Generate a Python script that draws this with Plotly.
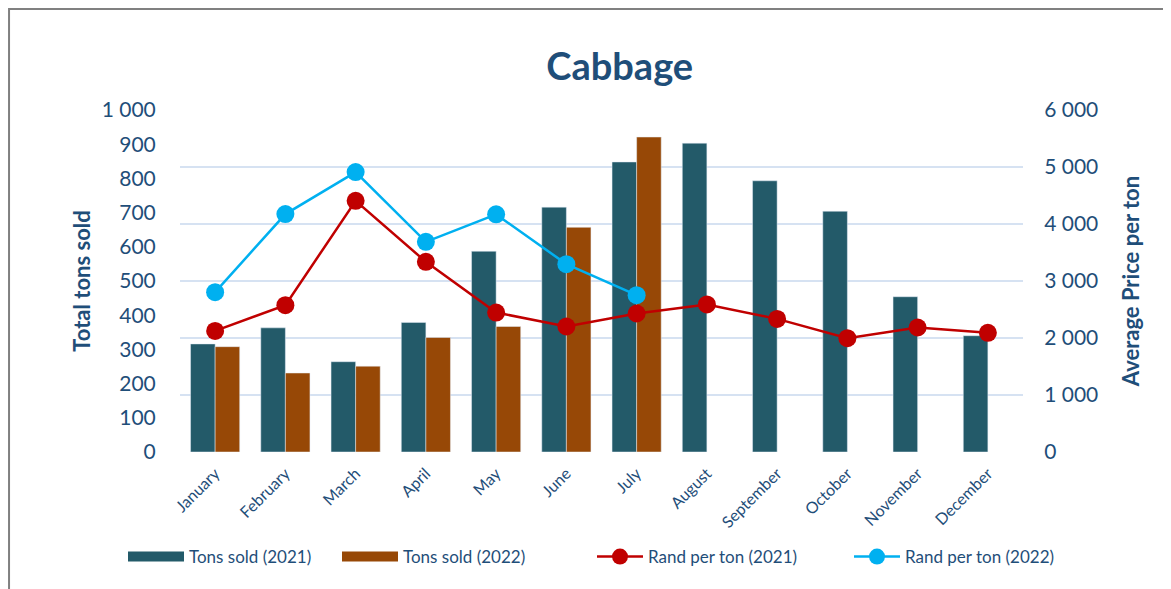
import plotly.graph_objects as go

months = ['January', 'February', 'March', 'April', 'May', 'June', 'July',
          'August', 'September', 'October', 'November', 'December']
tons_2021 = [316, 363, 264, 379, 587, 716, 848, 903, 793, 704, 454, 340]
tons_2022 = [308, 231, 251, 335, 367, 657, 921]
rand_2021 = [2125, 2576, 4407, 3336, 2447, 2202, 2430, 2588, 2335, 1997, 2184, 2090]
rand_2022 = [2804, 4174, 4911, 3687, 4169, 3296, 2751]

txt = '#1F4E79'
font = 'Lato'
c_2021 = '#235A69'
c_2022 = '#974806'

fig = go.Figure()
fig.add_trace(go.Bar(x=months, y=tons_2021, name='Tons sold (2021)', marker_color=c_2021,
                     showlegend=False))
fig.add_trace(go.Bar(x=months[:len(tons_2022)], y=tons_2022, name='Tons sold (2022)',
                     marker_color=c_2022, showlegend=False))
# legend-only entries so the bar swatches are wide rectangles like the original
fig.add_trace(go.Scatter(x=[None], y=[None], name='Tons sold (2021)', mode='lines',
                         line=dict(color=c_2021, width=13), legend='legend'))
fig.add_trace(go.Scatter(x=[None], y=[None], name='Tons sold (2022)', mode='lines',
                         line=dict(color=c_2022, width=13), legend='legend'))
fig.add_trace(go.Scatter(x=months, y=rand_2021, name='Rand per ton (2021)', yaxis='y2',
                         mode='lines+markers', line=dict(color='#C00000', width=2.5),
                         marker=dict(size=18, color='#C00000'), legend='legend2'))
fig.add_trace(go.Scatter(x=months[:len(rand_2022)], y=rand_2022, name='Rand per ton (2022)',
                         yaxis='y2', mode='lines+markers', line=dict(color='#00B0F0', width=2.5),
                         marker=dict(size=18, color='#00B0F0'), legend='legend2'))

legend_common = dict(orientation='h', xanchor='left', xref='container',
                     y=1 - 549 / 581, yanchor='middle', yref='container',
                     font=dict(size=17, color=txt), traceorder='normal',
                     entrywidthmode='pixels')

fig.update_layout(
    width=1163, height=581,
    margin=dict(l=172, r=148, t=102, b=137),
    paper_bgcolor='white', plot_bgcolor='white',
    font=dict(family=font, color=txt),
    separators='. ',
    barmode='group', bargap=0.3, bargroupgap=0,
    title=dict(text='<b>Cabbage</b>', x=0.526, xanchor='center', xref='container',
               y=1 - 59 / 581, yanchor='middle', yref='container',
               font=dict(size=38, color=txt, family=font)),
    xaxis=dict(range=[-0.5, 11.5], tickangle=-45, tickfont=dict(size=16, color=txt),
               showgrid=False, ticks='outside', ticklen=5, tickcolor='rgba(0,0,0,0)',
               showline=False, automargin=False),
    yaxis=dict(range=[0, 1000], dtick=100, tickformat=',d', showgrid=False, zeroline=False,
               tickfont=dict(size=21, color=txt), ticks='outside', ticklen=19,
               tickcolor='rgba(0,0,0,0)', automargin=False,
               title=dict(text='<b>Total tons sold</b>', font=dict(size=22, color=txt), standoff=4)),
    yaxis2=dict(range=[0, 6000], dtick=1000, tickformat=',d', overlaying='y', side='right',
                showgrid=True, gridcolor='#D6E2F2', gridwidth=1.5, zeroline=False,
                tickfont=dict(size=21, color=txt), ticks='outside', ticklen=16,
                tickcolor='rgba(0,0,0,0)', automargin=False,
                title=dict(text='<b>Average Price per ton</b>', font=dict(size=22, color=txt),
                           standoff=26)),
    legend=dict(legend_common, x=(123 - 8) / 1163, itemwidth=56, entrywidth=143),
    legend2=dict(legend_common, x=(592 - 8) / 1163, itemwidth=46, entrywidth=196),
)

# outer chart border (only top and left fall inside the picture)
fig.add_shape(type='rect', xref='paper', yref='paper', x0=-0.2028, x1=1.2, y0=-0.6, y1=1.2953,
              line=dict(color='#808080', width=2), fillcolor='rgba(0,0,0,0)', layer='below')

fig.write_html('out.html')
